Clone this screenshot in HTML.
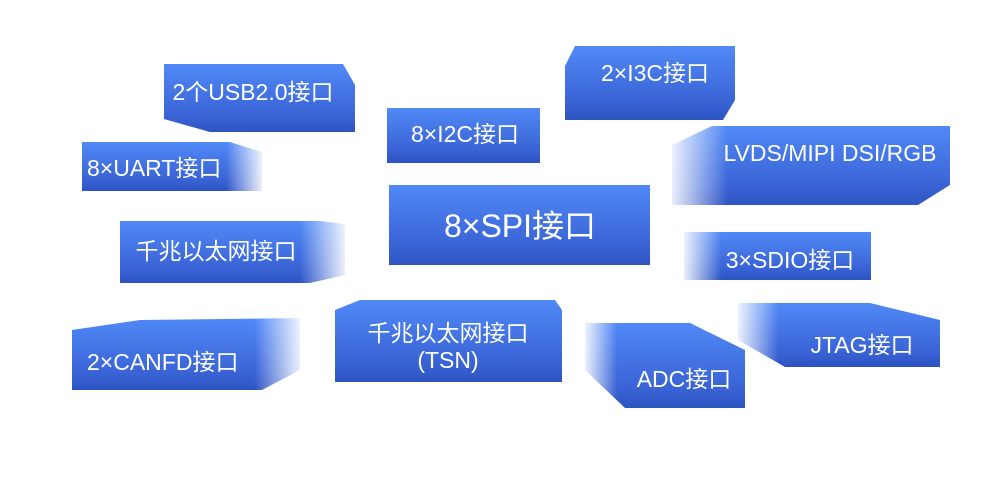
<!DOCTYPE html>
<html><head><meta charset="utf-8"><style>
html,body{margin:0;padding:0;background:#fff;}
svg{display:block}
text{font-family:"Liberation Sans","Noto Sans CJK SC",sans-serif;fill:#fff;}
</style></head><body>
<svg width="1006" height="480" viewBox="0 0 1006 480" xmlns="http://www.w3.org/2000/svg">
<defs>
<linearGradient id="g" x1="0" y1="0" x2="0" y2="1">
<stop offset="0" stop-color="#5189f7"/><stop offset="0.75" stop-color="#3a64d6"/><stop offset="1" stop-color="#2e54c2"/>
</linearGradient>
<linearGradient id="fr" x1="0" y1="0" x2="1" y2="0">
<stop offset="0" stop-color="#fff" stop-opacity="1"/><stop offset="0.8" stop-color="#fff" stop-opacity="1"/><stop offset="1" stop-color="#fff" stop-opacity="0.1"/>
</linearGradient>
<linearGradient id="fl" x1="0" y1="0" x2="1" y2="0">
<stop offset="0" stop-color="#fff" stop-opacity="0.1"/><stop offset="0.2" stop-color="#fff" stop-opacity="1"/><stop offset="1" stop-color="#fff" stop-opacity="1"/>
</linearGradient>
<mask id="mr" maskContentUnits="objectBoundingBox"><rect width="1" height="1" fill="url(#fr)"/></mask>
<mask id="ml" maskContentUnits="objectBoundingBox"><rect width="1" height="1" fill="url(#fl)"/></mask>
</defs>

<polygon points="164,64 343,64 355,85 355,132 210,132 164,119" fill="url(#g)"/>
<text x="253" y="100" font-size="23" text-anchor="middle">2个USB2.0接口</text>
<polygon points="82,142 230,142 262,152 262,191 82,191" fill="url(#g)" mask="url(#mr)"/>
<text x="87" y="176" font-size="23">8×UART接口</text>
<rect x="387" y="108" width="153" height="55" fill="url(#g)"/>
<text x="465" y="142" font-size="23" text-anchor="middle">8×I2C接口</text>
<polygon points="575,46 735,46 735,100 723,120 565,120 565,66" fill="url(#g)"/>
<text x="655" y="81" font-size="23" text-anchor="middle">2×I3C接口</text>
<polygon points="712,126 950,126 950,185 918,205 672,205 672,145" fill="url(#g)" mask="url(#ml)"/>
<text x="830" y="161" font-size="23" text-anchor="middle">LVDS/MIPI DSI/RGB</text>
<rect x="389" y="185" width="261" height="80" fill="url(#g)"/>
<text x="520" y="237" font-size="32" text-anchor="middle">8×SPI接口</text>
<polygon points="120,221 320,221 345,224 345,275 310,283 120,283" fill="url(#g)" mask="url(#mr)"/>
<text x="216" y="259" font-size="23" text-anchor="middle">千兆以太网接口</text>
<rect x="684" y="232" width="187" height="48" fill="url(#g)" mask="url(#ml)"/>
<text x="790" y="268" font-size="23" text-anchor="middle">3×SDIO接口</text>
<polygon points="72,330 140,320 300,318 300,370 262,390 72,390" fill="url(#g)" mask="url(#mr)"/>
<text x="87" y="370" font-size="23">2×CANFD接口</text>
<polygon points="335,310 360,300 555,300 562,310 562,382 335,382" fill="url(#g)"/>
<text x="448" y="341" font-size="23" text-anchor="middle">千兆以太网接口</text>
<text x="448" y="368" font-size="23" text-anchor="middle">(TSN)</text>
<polygon points="585,323 690,323 745,350 745,408 625,408 585,370" fill="url(#g)" mask="url(#ml)"/>
<text x="684" y="387" font-size="23" text-anchor="middle">ADC接口</text>
<polygon points="738,303 870,303 940,320 940,367 785,367 738,340" fill="url(#g)" mask="url(#ml)"/>
<text x="862" y="353" font-size="23" text-anchor="middle">JTAG接口</text>
</svg>
</body></html>
